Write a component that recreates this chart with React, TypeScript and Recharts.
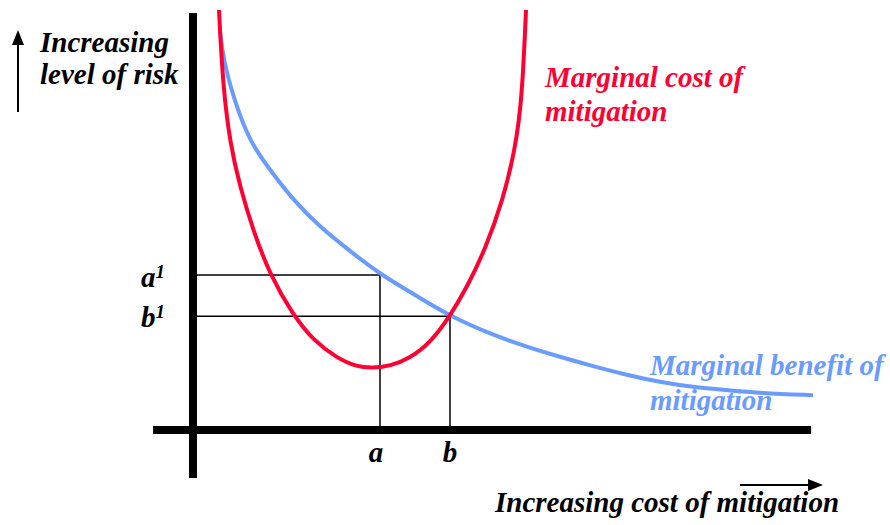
import { ComposedChart, Line, ReferenceLine, XAxis, YAxis } from "recharts";

// marginal cost of mitigation (U shaped)
const costX = [4.19, 4.84, 5.97, 7.58, 9.68, 12.42, 16.13, 19.35, 23.23, 26.45, 29.03, 31.77, 35.0, 38.23, 41.45, 44.19, 47.1, 50.0, 51.94, 53.06, 53.71];
const costY = [100, 81.7, 68.3, 57.9, 47.6, 36.9, 27.4, 21.4, 17.1, 15.0, 14.8, 15.2, 17.1, 20.7, 27.1, 34.0, 42.9, 54.8, 66.7, 78.6, 100];

// marginal benefit of mitigation (falling)
const benefitX = [4.35, 4.89, 6.77, 9.19, 12.42, 16.13, 20.48, 25.32, 30.16, 36.13, 41.45, 48.39, 53.87, 59.19, 64.52, 70.0, 75.32, 80.65, 86.13, 91.45, 100];
const benefitY = [95.2, 88.1, 77.9, 68.6, 61.9, 54.8, 48.3, 42.6, 37.1, 31.9, 27.1, 22.6, 19.8, 17.4, 15.2, 13.1, 11.4, 10.2, 9.5, 8.8, 8.3];

// marked points: [cost, risk]
const pointA = [30.16, 36.9];
const pointB = [41.45, 27.1];

const costData = costX.map((x, i) => ({ x, y: costY[i] }));
const benefitData = benefitX.map((x, i) => ({ x, y: benefitY[i] }));

const RED = "#ff0033";
const BLUE = "#6a9bff";
const FONT = '"Liberation Serif", "Times New Roman", serif';

const txt = {
  fontFamily: FONT,
  fontSize: 29,
  fontWeight: 700,
  fontStyle: "italic" as const,
};

export default function App() {
  return (
    <div style={{ position: "absolute", left: 0, top: 0, width: 890, height: 525, background: "#fff" }}>
      <ComposedChart width={890} height={525} margin={{ top: 10, right: 77, bottom: 95, left: 193 }}>
        <XAxis type="number" dataKey="x" domain={[0, 100]} hide />
        <YAxis type="number" dataKey="y" domain={[0, 100]} hide />

        <ReferenceLine segment={[{ x: 0, y: pointA[1] }, { x: pointA[0], y: pointA[1] }]} stroke="#000" strokeWidth={1.5} />
        <ReferenceLine segment={[{ x: pointA[0], y: pointA[1] }, { x: pointA[0], y: 0 }]} stroke="#000" strokeWidth={1.5} />
        <ReferenceLine segment={[{ x: 0, y: pointB[1] }, { x: pointB[0], y: pointB[1] }]} stroke="#000" strokeWidth={1.5} />
        <ReferenceLine segment={[{ x: pointB[0], y: pointB[1] }, { x: pointB[0], y: 0 }]} stroke="#000" strokeWidth={1.5} />

        <Line data={benefitData} dataKey="y" type="basis" stroke={BLUE} strokeWidth={4} dot={false} isAnimationActive={false} />
        <Line data={costData} dataKey="y" type="basis" stroke={RED} strokeWidth={4} dot={false} isAnimationActive={false} />

        <ReferenceLine segment={[{ x: 0, y: 99.3 }, { x: 0, y: -11.4 }]} stroke="#000" strokeWidth={8} ifOverflow="visible" />
        <ReferenceLine segment={[{ x: -6.45, y: 0 }, { x: 99.7, y: 0 }]} stroke="#000" strokeWidth={8} ifOverflow="visible" />
      </ComposedChart>

      <svg width={890} height={525} style={{ position: "absolute", left: 0, top: 0, pointerEvents: "none" }}>
        <line x1={18} y1={112} x2={18} y2={42} stroke="#000" strokeWidth={2} />
        <polygon points="18,30 12,45 24,45" fill="#000" />
        <line x1={740} y1={485} x2={810} y2={485} stroke="#000" strokeWidth={2} />
        <polygon points="823,485 808,479 808,491" fill="#000" />

        <text x={40} y={52} style={txt} fill="#000">Increasing</text>
        <text x={40} y={84} style={txt} fill="#000">level of risk</text>

        <text x={545} y={87} style={txt} fill={RED}>Marginal cost of</text>
        <text x={545} y={121} style={txt} fill={RED}>mitigation</text>

        <text x={650} y={375} style={txt} fill={BLUE}>Marginal benefit of</text>
        <text x={650} y={410} style={txt} fill={BLUE}>mitigation</text>

        <text x={495} y={512} style={txt} fill="#000">Increasing cost of mitigation</text>

        <text x={141} y={287} style={txt} fill="#000">a<tspan fontSize={19} dy={-9}>1</tspan></text>
        <text x={141} y={327} style={txt} fill="#000">b<tspan fontSize={19} dy={-9}>1</tspan></text>

        <text x={376} y={462} style={txt} fill="#000" textAnchor="middle">a</text>
        <text x={450} y={462} style={txt} fill="#000" textAnchor="middle">b</text>
      </svg>
    </div>
  );
}
